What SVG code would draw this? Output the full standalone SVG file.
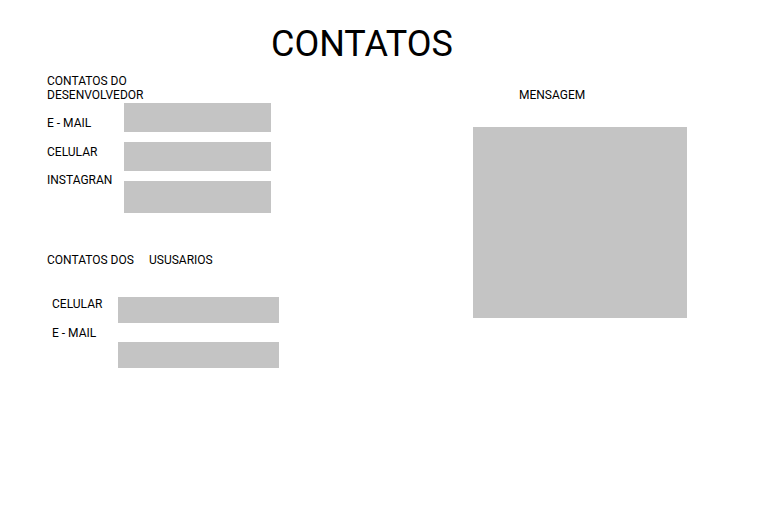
<svg xmlns="http://www.w3.org/2000/svg" width="768" height="528" viewBox="0 0 768 528">
  <style>
    .lbl { font-family: Roboto, "Liberation Sans", sans-serif; font-size: 12px; fill: #000; }
    .ttl { font-family: Roboto, "Liberation Sans", sans-serif; font-size: 36px; fill: #000; }
    .field { fill: #c4c4c4; }
  </style>
  <rect width="768" height="528" fill="#fff"/>

  <g id="title">
    <text class="ttl" x="271" y="56">CONTATOS</text>
  </g>

  <g id="dev-contacts">
    <text class="lbl" x="47" y="85">CONTATOS DO</text>
    <text class="lbl" x="47" y="99">DESENVOLVEDOR</text>
    <g id="dev-email">
      <text class="lbl" x="47" y="127">E - MAIL</text>
      <rect class="field" x="124" y="103" width="147" height="29"/>
    </g>
    <g id="dev-phone">
      <text class="lbl" x="47" y="155.5">CELULAR</text>
      <rect class="field" x="124" y="142" width="147" height="29"/>
    </g>
    <g id="dev-instagram">
      <text class="lbl" x="47" y="184">INSTAGRAN</text>
      <rect class="field" x="124" y="181" width="147" height="32"/>
    </g>
  </g>

  <g id="user-contacts">
    <text class="lbl" x="47" y="264">CONTATOS DOS</text>
    <text class="lbl" x="149" y="264">USUSARIOS</text>
    <g id="user-phone">
      <text class="lbl" x="52" y="308">CELULAR</text>
      <rect class="field" x="118" y="297" width="161" height="26"/>
    </g>
    <g id="user-email">
      <text class="lbl" x="52" y="337">E - MAIL</text>
      <rect class="field" x="118" y="342" width="161" height="26"/>
    </g>
  </g>

  <g id="message">
    <text class="lbl" x="519" y="99.3">MENSAGEM</text>
    <rect class="field" x="473" y="127" width="214" height="191"/>
  </g>

  <g id="connectors"/>
</svg>
